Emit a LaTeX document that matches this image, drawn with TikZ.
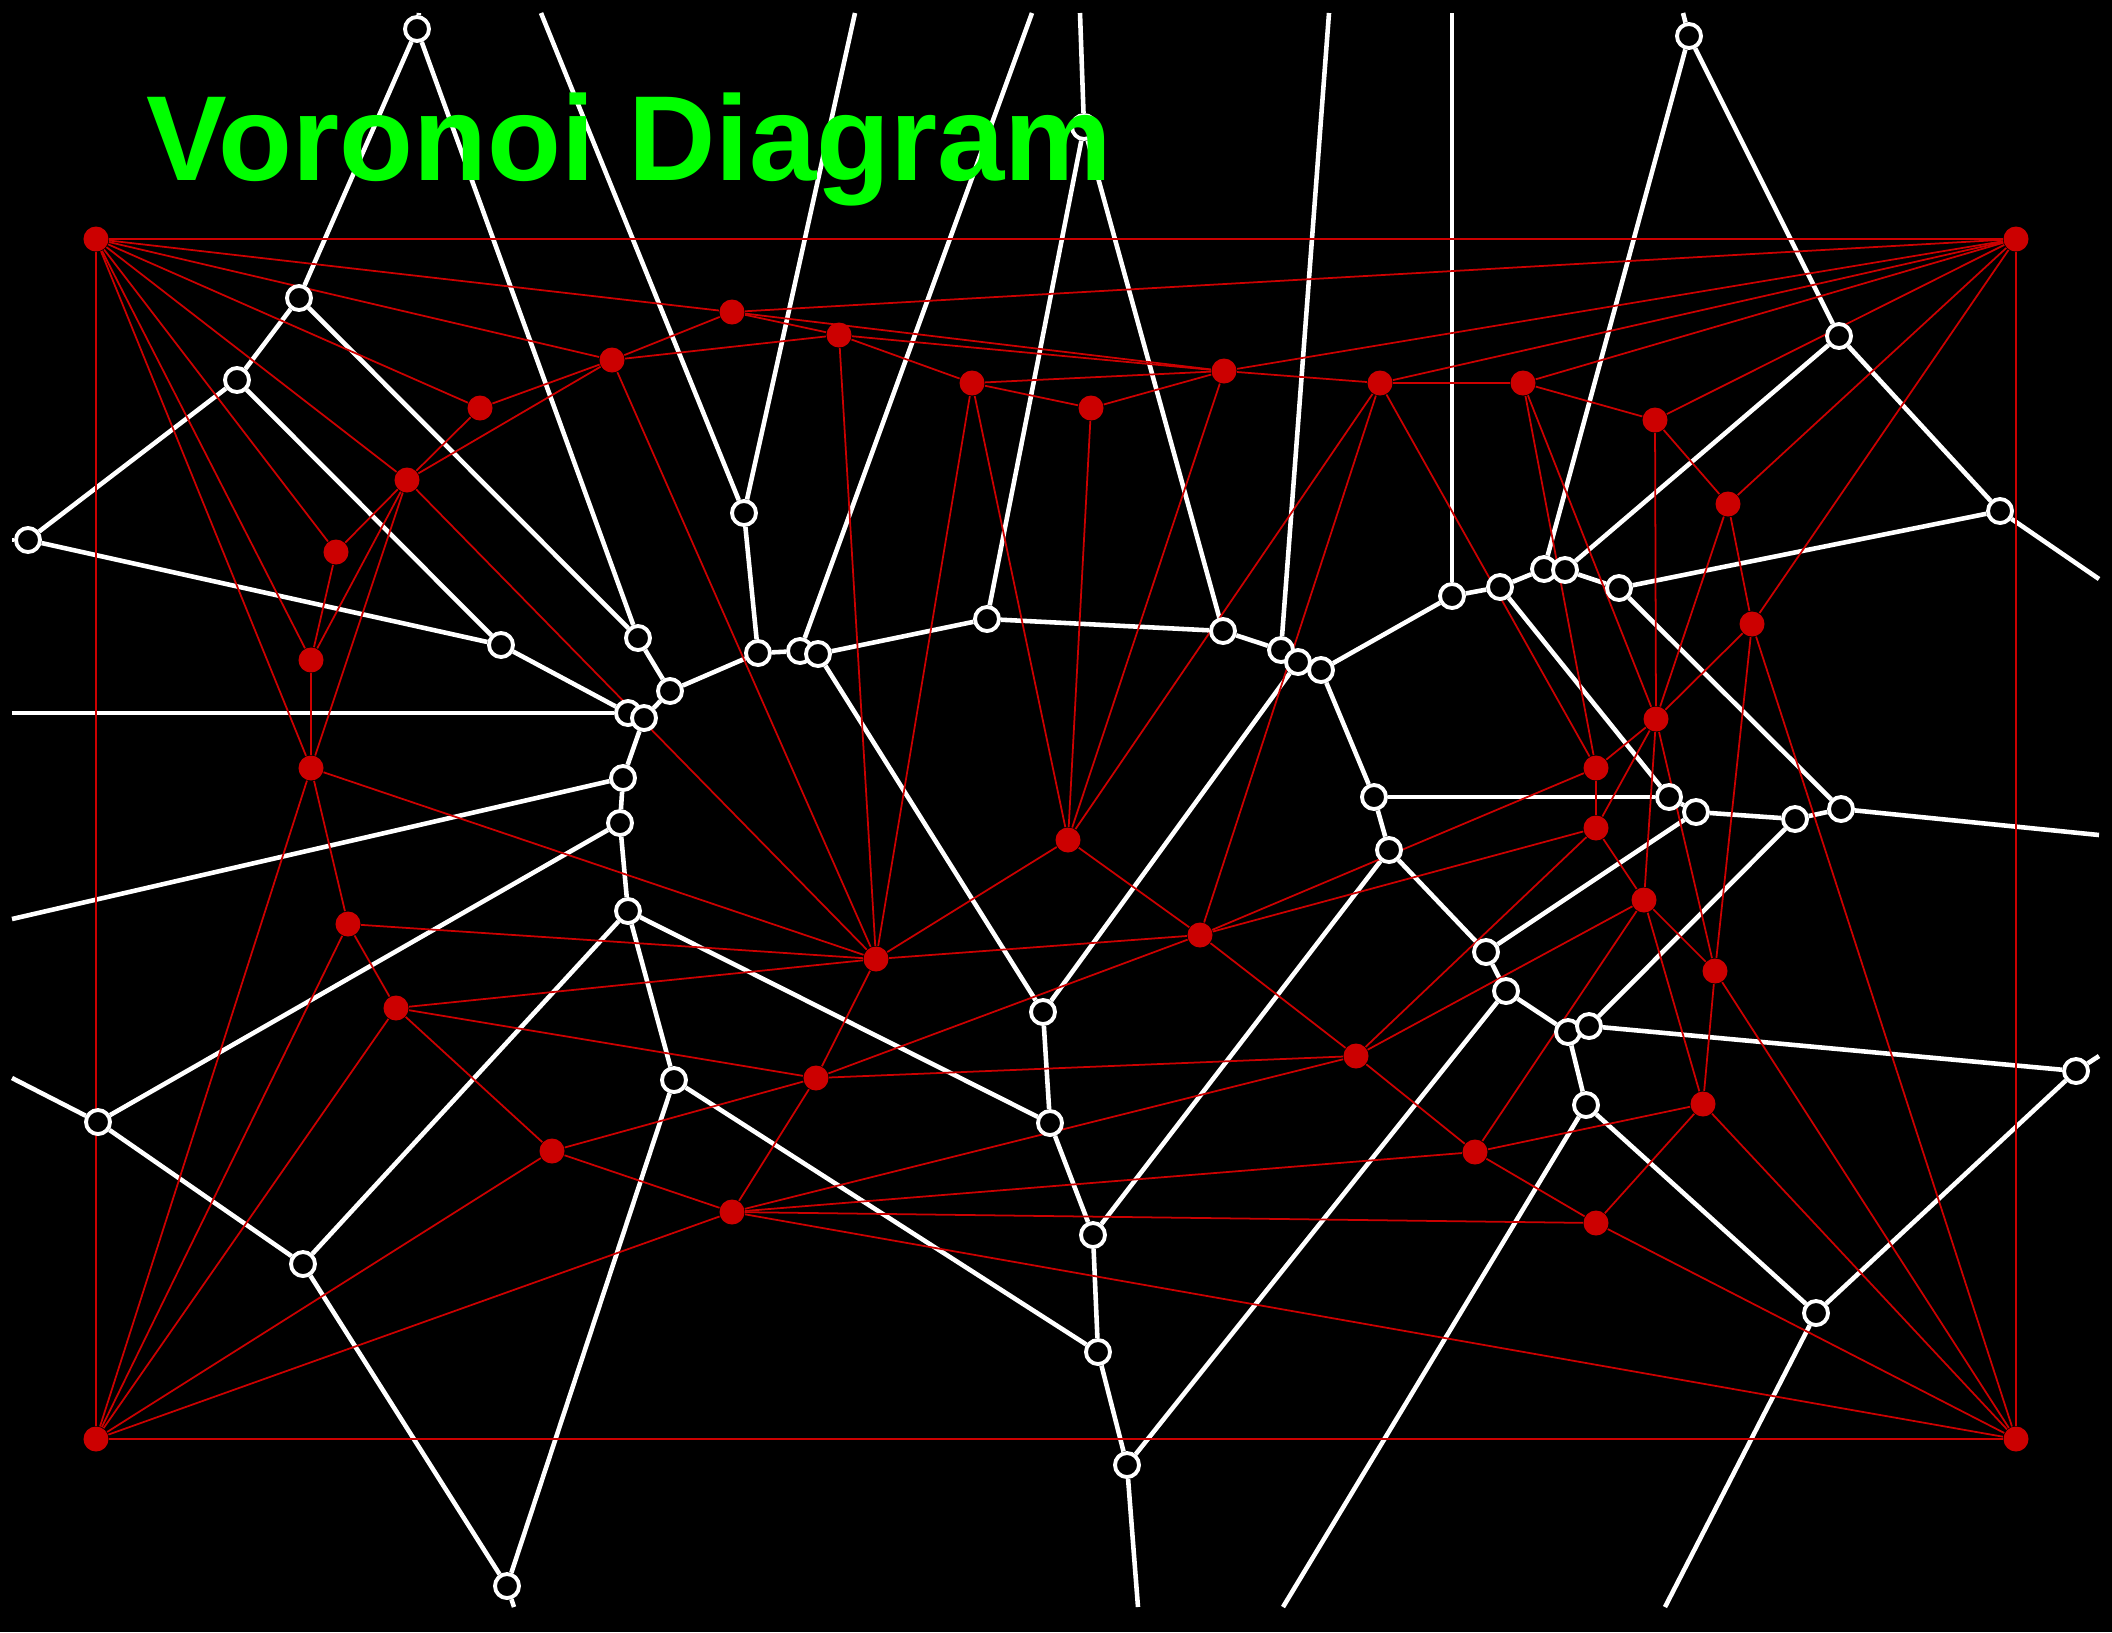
\documentclass[tikz,border=0pt]{standalone}
\usepackage{fontspec}
\setmainfont{Liberation Sans}
\usetikzlibrary{positioning}
\definecolor{sitered}{RGB}{204,0,0}
\definecolor{titlegreen}{RGB}{0,255,0}
\pgfdeclarelayer{bg}
\pgfdeclarelayer{voro}
\pgfdeclarelayer{dela}
\pgfsetlayers{bg,voro,dela,main}

\begin{document}
\begin{tikzpicture}[x=0.01cm,y=-0.01cm,
  site/.style={circle,fill=sitered,inner sep=0pt,minimum size=2.5mm},
  vert/.style={circle,draw=white,fill=black,line width=1.1pt,inner sep=0pt,minimum size=2.4mm},
  vedge/.style={white,line width=1.3pt},
  dedge/.style={sitered,line width=0.5pt}]
\useasboundingbox (0,0) rectangle (2112,1632);
\begin{pgfonlayer}{bg}
\fill[black] (0,0) rectangle (2112,1632);
\end{pgfonlayer}
% sites
\foreach \n/\px/\py in {R1/96/239,R2/2016/239,R3/96/1439,R4/2016/1439,
  a/732/312,b/839/335,c/612/360,d/480/408,e/407/480,f/336/552,g/311/660,h/311/768,
  gg/348/924,ff/396/1008,ee/552/1151,dd/732/1212,cc/816/1078,bb/876/959,aa/1068/840,
  z/1200/935,y/1356/1056,x/1475/1152,w/1596/1223,v/1703/1104,u/1715/971,t/1644/900,
  s/1596/828,r/1596/768,q/1656/719,p/1752/624,o/1728/504,n/1655/420,m/1523/383,
  l/1380/383,k/1224/371,j/1091/408,i/972/383}
  {\node[site] (\n) at (\px,\py) {};}
% voronoi vertices
\foreach \n/\px/\py in {V1/417/29,V2/299/298,V3/237/380,V4/28/540,V5/501/645,V6/638/638,
  V7/670/691,V8/628/713,V9/644/718,V10/623/778,V11/620/823,V12/628/911,V13/674/1080,
  V14/98/1122,V15/303/1264,V16/507/1586,V17/744/513,V18/758/653,V19/800/651,V20/818/654,
  V21/987/619,V22/1223/631,V23/1281/650,V24/1298/662,V25/1321/670,V26/1452/596,
  V27/1500/587,V28/1544/569,V29/1565/570,V30/1619/588,V31/1839/336,V32/1689/36,
  V33/2000/511,V34/1374/797,V35/1669/797,V36/1696/812,V37/1795/819,V38/1841/809,
  V39/1389/850,V40/1486/952,V41/1506/991,V42/1568/1032,V43/1589/1026,V44/1586/1105,
  V45/1816/1313,V46/2076/1071,V47/1043/1012,V48/1050/1123,V49/1093/1235,V50/1098/1352,
  V51/1127/1465,Vh/1084/127}
  {\node[vert] (\n) at (\px,\py) {};}
% open ends at the frame
\foreach \n/\px/\py in {T1/419/13,T2/541/13,T3/855/13,T4/1032/13,T5/1080/13,T6/1329/13,
  T7/1452/13,T8/1683/13,L1/12/540,L2/12/713,L3/12/919,L4/12/1078,E1/2099/579,
  E2/2099/835,E3/2099/1056,D1/514/1607,D2/1138/1607,D3/1283/1607,D4/1665/1607}
  {\coordinate (\n) at (\px,\py);}
\begin{pgfonlayer}{voro}
\foreach \x/\y in {V1/T1,V1/V2,V1/V6,V2/V3,V2/V6,V3/V4,V3/V5,V4/L1,V4/V5,V5/V8,V6/V7,
  V7/V9,V7/V18,V8/V9,V8/L2,V9/V10,V10/V11,V10/L3,V11/V14,V11/V12,V12/V15,V12/V13,
  V12/V48,V13/V16,V13/V50,V14/L4,V14/V15,V15/V16,V16/D1,V17/T2,V17/T3,V17/V18,
  V18/V19,V19/V20,V19/T4,V20/V21,V20/V47,V21/V22,V21/Vh,Vh/T5,Vh/V22,V22/V23,V23/T6,
  V23/V24,V24/V25,V24/V47,V25/V26,V25/V34,V26/T7,V26/V27,V27/V28,V27/V35,V28/V29,
  V28/V32,V29/V30,V29/V31,V30/V33,V30/V38,V31/V32,V31/V33,V32/T8,V33/E1,V34/V35,
  V34/V39,V35/V36,V36/V37,V36/V40,V37/V38,V37/V43,V38/E2,V39/V40,V39/V49,V40/V41,
  V41/V42,V41/V51,V42/V43,V42/V44,V43/V46,V44/V45,V44/D3,V45/V46,V45/D4,V46/E3,
  V47/V48,V48/V49,V49/V50,V50/V51,V51/D2}
  {\draw[vedge] (\x)--(\y);}
\end{pgfonlayer}
\begin{pgfonlayer}{dela}
\foreach \x/\y in {R1/R2,R1/R3,R1/a,R1/c,R1/d,R1/e,R1/f,R1/g,R1/h,
  R2/R4,R2/a,R2/k,R2/l,R2/m,R2/n,R2/o,R2/p,R3/R4,R3/h,R3/gg,R3/ff,R3/ee,R3/dd,
  R4/p,R4/u,R4/v,R4/w,R4/dd,a/c,a/b,a/k,b/c,b/k,b/i,b/bb,c/d,c/e,c/bb,d/e,
  e/f,e/g,e/h,e/bb,f/g,g/h,h/gg,h/bb,gg/ff,gg/bb,ff/bb,ff/cc,ff/ee,ee/cc,ee/dd,
  dd/cc,dd/y,dd/x,dd/w,cc/bb,cc/z,cc/y,bb/aa,bb/z,bb/i,aa/i,aa/j,aa/k,aa/l,aa/z,
  z/l,z/r,z/s,z/y,y/s,y/t,y/x,x/t,x/v,x/w,w/v,v/t,v/u,u/q,u/t,u/p,t/q,t/s,
  s/r,s/q,r/l,r/m,r/q,q/m,q/n,q/o,q/p,p/o,o/n,n/m,m/l,l/k,k/i,k/j,j/i}
  {\draw[dedge] (\x)--(\y);}
\end{pgfonlayer}
\node[anchor=base west,inner sep=0pt,text=titlegreen,font=\fontsize{34.4}{40}\selectfont\bfseries] (title) at (146,180) {Voronoi Diagram};
\end{tikzpicture}
\end{document}
